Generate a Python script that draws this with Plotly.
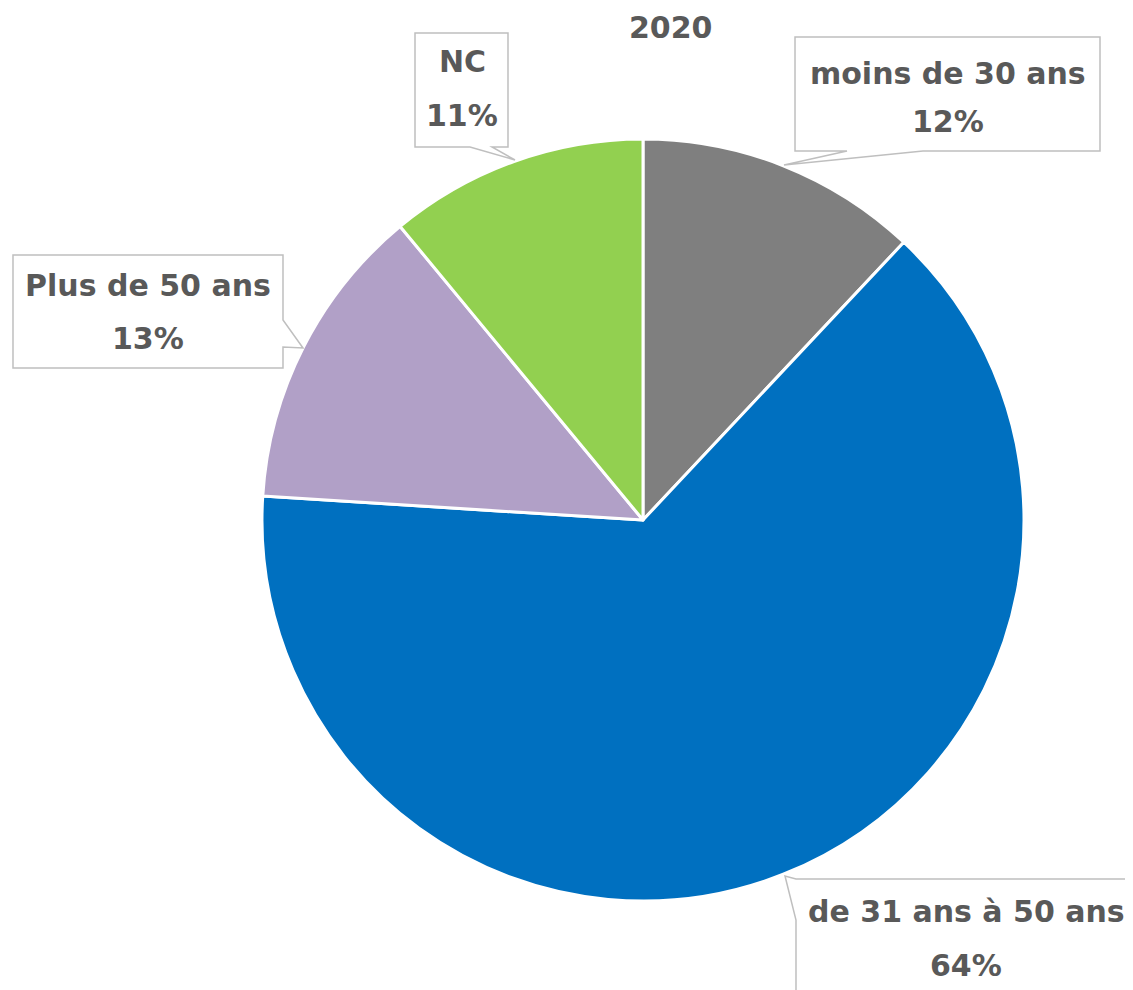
import plotly.graph_objects as go

# ---- data ----
labels = ["moins de 30 ans", "de 31 ans à 50 ans", "Plus de 50 ans", "NC"]
values = [12, 64, 13, 11]
colors = ["#7F7F7F", "#0070C0", "#B1A0C7", "#92D050"]
title_text = "2020"

OFF = 8  # page body margin
W, H = 1133 - OFF, 990 - OFF
TXT = "#595959"
FONT = "DejaVu Sans"
FS = 30


def px(x):
    return (x - OFF) / W


def py(y):
    return 1 - (y - OFF) / H


def path(points):
    s = "M " + " L ".join(f"{px(x):.5f},{py(y):.5f}" for x, y in points) + " Z"
    return s


fig = go.Figure()
fig.add_trace(go.Pie(
    labels=labels, values=values, sort=False, direction="clockwise", rotation=0,
    marker=dict(colors=colors, line=dict(color="white", width=3)),
    textinfo="none", hoverinfo="label+percent", showlegend=False,
    domain=dict(x=[px(262), px(1024)], y=[py(901), py(139)]),
))

# callout shapes (box + tail), pixel layout of the reference
callouts = {
    "NC": [(415, 33), (508, 33), (508, 147), (492, 147), (515, 160), (470, 147), (415, 147)],
    "moins de 30 ans": [(795, 37), (1100, 37), (1100, 151), (923, 151), (784, 165), (847, 151), (795, 151)],
    "Plus de 50 ans": [(13, 255), (283, 255), (283, 320), (303, 348), (283, 347), (283, 368), (13, 368)],
    "de 31 ans à 50 ans": [(1200, 879), (796, 879), (785, 876), (796, 920), (796, 1100), (1200, 1100)],
}
shapes = []
for k, pts in callouts.items():
    shapes.append(dict(type="path", xref="paper", yref="paper", path=path(pts),
                       fillcolor="white", line=dict(color="#BFBFBF", width=1.5), layer="above"))

# label positions (pixel centre of each line)
label_pos = {
    "NC": (462, 62, 116),
    "moins de 30 ans": (948, 73, 122),
    "Plus de 50 ans": (148, 286, 338),
    "de 31 ans à 50 ans": (966, 911, 965),
}
total = sum(values)
annotations = []
for lab, v in zip(labels, values):
    cx, y1, y2 = label_pos[lab]
    pct = f"{v / total * 100:.0f}%"
    for txt, yy in ((lab, y1), (pct, y2)):
        annotations.append(dict(text=f"<b>{txt}</b>", x=px(cx), y=py(yy), xref="paper", yref="paper",
                                xanchor="center", yanchor="middle", showarrow=False,
                                font=dict(family=FONT, size=FS, color=TXT)))

annotations.append(dict(text=f"<b>{title_text}</b>", x=px(671), y=py(27), xref="paper", yref="paper",
                        xanchor="center", yanchor="middle", showarrow=False,
                        font=dict(family=FONT, size=FS, color=TXT)))

fig.update_layout(
    width=W, height=H, margin=dict(l=0, r=0, t=0, b=0),
    paper_bgcolor="white", plot_bgcolor="white",
    shapes=shapes, annotations=annotations,
)
fig.write_html("out.html")
